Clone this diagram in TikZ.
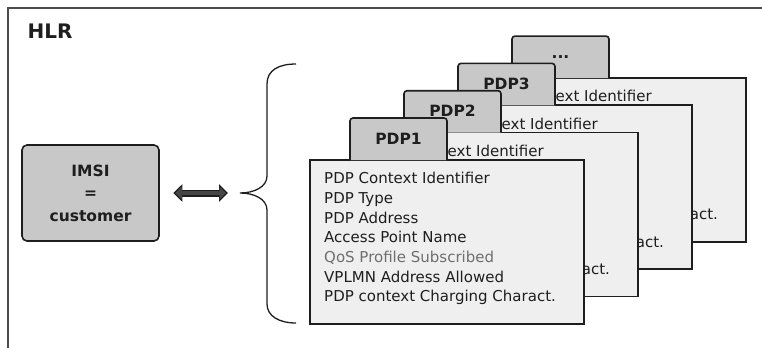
\documentclass[tikz,border=0pt]{standalone}
\usepackage{fontspec}
\setmainfont{DejaVu Sans}
\usetikzlibrary{positioning,arrows.meta}
\definecolor{tabgray}{HTML}{C8C8C8}
\definecolor{cardfill}{HTML}{EFEFEF}
\definecolor{linkgray}{HTML}{454545}
\definecolor{qosgray}{HTML}{6E6E6E}
\definecolor{inkgray}{HTML}{1E1E1E}
\newcommand\moredots{...}
\newcommand\pdpfields{PDP Context Identifier\\PDP Type\\PDP Address\\Access Point Name\\{\color{qosgray}QoS Profile Subscribed}\\VPLMN Address Allowed\\PDP context Charging Charact.}

\begin{document}
\begin{tikzpicture}[x=1pt,y=-1pt,
  font=\fontsize{15}{19.7}\selectfont,text=inkgray,
  frameline/.style={draw=black!70,line width=2pt},
  imsibox/.style={draw=inkgray,line width=1.6pt,fill=tabgray,rounded corners=5pt,minimum width=137pt,minimum height=96pt,align=center,font=\bfseries\fontsize{15.5}{22.5}\selectfont},
  cardbody/.style={draw=inkgray,line width=1.6pt,fill=cardfill,minimum width=274pt,minimum height=164pt,inner sep=0pt},
  cardtext/.style={align=left,inner sep=0pt},
  tabshape/.style={draw=inkgray,line width=1.6pt,fill=tabgray,rounded corners=3pt},
  tablabel/.style={font=\bfseries\fontsize{15.5}{18}\selectfont},
  bracel/.style={draw=inkgray,line width=1.3pt},
  linkout/.style={line width=7pt,inkgray,{Triangle[length=9pt,width=17pt]}-{Triangle[length=9pt,width=17pt]},shorten <=13.5pt,shorten >=12pt},
  linkin/.style={line width=4pt,linkgray,{Triangle[length=6.5pt,width=12.5pt]}-{Triangle[length=6.5pt,width=12.5pt]},shorten <=15.5pt,shorten >=14pt}]
\useasboundingbox (0,0) rectangle (762,348);
\draw[frameline] (8,348) -- (8,8) -- (762,8);
\node[font=\bfseries\fontsize{20}{24}\selectfont,anchor=base west] (hlr) at (24,38) {HLR};

% customer side
\node[imsibox] (imsi) at (90.5,193) {IMSI\\=\\customer};
\coordinate (tip) at (240,193);
\draw[linkout] (imsi.east) -- (tip);
\draw[linkin] (imsi.east) -- (tip);
\draw[bracel] (296,64) .. controls (279,64) and (267,70) .. (267,84) -- (267,176)
  .. controls (267,187) and (254,193) .. (tip) .. controls (254,193) and (267,199) .. (267,210)
  -- (267,304) .. controls (267,316) and (279,323) .. (296,323);

% stack of PDP contexts, back to front
\foreach \i/\lbl in {3/\moredots,2/PDP3,1/PDP2,0/PDP1}{
  \node[cardbody,anchor=north west] (body\i) at ({309+54*\i},{159-27.3*\i}) {};
  \node[cardtext,anchor=north west] (txt\i) at ([xshift=15pt,yshift=-13pt]body\i.north west) {\pdpfields};
  \filldraw[tabshape] ([xshift=41pt,yshift=-1pt]body\i.north west) -- ++(0,-42) -- ++(97,0) -- ++(0,42);
  \node[tablabel] (tab\i) at ([xshift=89.5pt,yshift=20.5pt]body\i.north west) {\lbl};
}
\end{tikzpicture}
\end{document}
